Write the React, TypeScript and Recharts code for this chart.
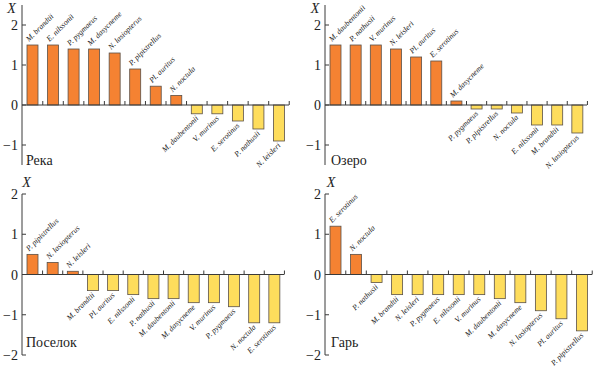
import React from 'react';
import { BarChart, Bar, XAxis, YAxis, ReferenceLine } from 'recharts';

const ORANGE = '#f58232';
const YELLOW = '#fedd5c';
const EDGE = '#5a5048';
const AXIS = '#3a3a3a';
const SERIF = '"Liberation Serif", "DejaVu Serif", serif';

const riverSpecies = [
  'M. brandtii', 'E. nilssonii', 'P. pygmaeus', 'M. dasycneme', 'N. lasiopterus',
  'P. pipistrellus', 'Pl. auritus', 'N. noctula', 'M. daubentonii', 'V. murinus',
  'E. serotinus', 'P. nathusii', 'N. leisleri',
];
const riverValues = [1.5, 1.5, 1.4, 1.4, 1.3, 0.9, 0.47, 0.24, -0.22, -0.22, -0.4, -0.6, -0.9];

const lakeSpecies = [
  'M. daubentonii', 'P. nathusii', 'V. murinus', 'N. leisleri', 'Pl. auritus',
  'E. serotinus', 'M. dasycneme', 'P. pygmaeus', 'P. pipistrellus', 'N. noctula',
  'E. nilssonii', 'M. brandtii', 'N. lasiopterus',
];
const lakeValues = [1.5, 1.5, 1.5, 1.4, 1.2, 1.1, 0.1, -0.1, -0.1, -0.2, -0.5, -0.5, -0.7];

const villageSpecies = [
  'P. pipistrellus', 'N. lasiopterus', 'N. leisleri', 'M. brandtii', 'Pl. auritus',
  'E. nilssonii', 'P. nathusii', 'M. daubentonii', 'M. dasycneme', 'V. murinus',
  'P. pygmaeus', 'N. noctula', 'E. serotinus',
];
const villageValues = [0.5, 0.3, 0.08, -0.4, -0.4, -0.5, -0.6, -0.6, -0.7, -0.7, -0.8, -1.2, -1.2];

const burntSpecies = [
  'E. serotinus', 'N. noctula', 'P. nathusii', 'M. brandtii', 'N. leisleri',
  'P. pygmaeus', 'E. nilssonii', 'V. murinus', 'M. daubentonii', 'M. dasycneme',
  'N. lasiopterus', 'Pl. auritus', 'P. pipistrellus',
];
const burntValues = [1.2, 0.5, -0.2, -0.5, -0.5, -0.5, -0.5, -0.5, -0.6, -0.7, -0.9, -1.1, -1.4];

const topTicks = [-1, 0, 1, 2];
const bottomTicks = [-2, -1, 0, 1, 2];

const panels = [
  {
    title: 'Река', species: riverSpecies, values: riverValues,
    left: 0, top: 0, width: 296, height: 180, axisWidth: 22,
    margin: { top: 5, right: 7, bottom: 15, left: 0 },
    domain: [-1.5, 2.5], ticks: topTicks,
    xLabel: { x: 11.5, y: 13 }, titlePos: { x: 26, y: 165 },
  },
  {
    title: 'Озеро', species: lakeSpecies, values: lakeValues,
    left: 296, top: 0, width: 297, height: 180, axisWidth: 29,
    margin: { top: 5, right: 6, bottom: 15, left: 0 },
    domain: [-1.5, 2.5], ticks: topTicks,
    xLabel: { x: 315, y: 13 }, titlePos: { x: 331, y: 165 },
  },
  {
    title: 'Поселок', species: villageSpecies, values: villageValues,
    left: 0, top: 180, width: 296, height: 188, axisWidth: 22,
    margin: { top: 14, right: 12, bottom: 13, left: 0 },
    domain: [-2, 2], ticks: bottomTicks,
    xLabel: { x: 26.5, y: 187 }, titlePos: { x: 26, y: 347 },
  },
  {
    title: 'Гарь', species: burntSpecies, values: burntValues,
    left: 296, top: 180, width: 297, height: 188, axisWidth: 29,
    margin: { top: 14, right: 1, bottom: 13, left: 0 },
    domain: [-2, 2], ticks: bottomTicks,
    xLabel: { x: 331, y: 187 }, titlePos: { x: 331, y: 347 },
  },
];

const YTick = (props: any) => {
  const { x, y, payload } = props;
  const v = payload.value;
  const label = v < 0 ? `\u2212${-v}` : `${v}`;
  return (
    <g>
      <line x1={x + 4} x2={x + 8} y1={y} y2={y} stroke={AXIS} />
      <text x={x} y={y} dy={5} textAnchor="end" fontFamily={SERIF} fontSize={14} fill="#222">
        {label}
      </text>
    </g>
  );
};

const makeShape = (band: number) => (props: any) => {
  const { x, y, width, height, payload } = props;
  const pos = payload.value >= 0;
  const y0 = Math.min(y, y + height);
  const y1 = Math.max(y, y + height);
  const zeroY = pos ? y1 : y0;
  const cx = x + width / 2;
  const tickX = cx + band / 2;
  const lx = pos ? x + 2 : cx + 2;
  const ly = pos ? y0 - 3 : y1 + 5;
  return (
    <g>
      <rect x={x} y={y0} width={width} height={y1 - y0}
        fill={pos ? ORANGE : YELLOW} stroke={EDGE} strokeWidth={0.8} />
      <line x1={tickX} x2={tickX} y1={zeroY} y2={zeroY - 4} stroke={AXIS} />
      <text x={lx} y={ly} transform={`rotate(-45 ${lx} ${ly})`}
        textAnchor={pos ? 'start' : 'end'} fontFamily={SERIF} fontStyle="italic"
        fontSize={7.8} fill="#111">
        {payload.name}
      </text>
    </g>
  );
};

const Panel = ({ p }: { p: (typeof panels)[number] }) => {
  const data = p.species.map((name, i) => ({ name, value: p.values[i] }));
  const plotWidth = p.width - p.axisWidth - p.margin.left - p.margin.right;
  const band = plotWidth / data.length;
  return (
    <div style={{ position: 'absolute', left: p.left, top: p.top }}>
      <BarChart width={p.width} height={p.height} data={data} margin={p.margin}
        style={{ overflow: 'visible' }}>
        <XAxis dataKey="name" hide />
        <YAxis
          width={p.axisWidth}
          domain={p.domain}
          ticks={p.ticks}
          axisLine={{ stroke: AXIS }}
          tickLine={false}
          tickSize={0}
          tickMargin={4}
          tick={<YTick />}
        />
        <ReferenceLine y={0} stroke={AXIS} strokeWidth={1} />
        <Bar dataKey="value" barSize={11} isAnimationActive={false} shape={makeShape(band)} />
      </BarChart>
    </div>
  );
};

export default function App() {
  return (
    <div style={{ position: 'absolute', left: 0, top: 0, width: 593, height: 368, background: '#fff' }}>
      {panels.map((p) => (
        <Panel key={p.title} p={p} />
      ))}
      <svg width={593} height={368} style={{ position: 'absolute', left: 0, top: 0, pointerEvents: 'none' }}>
        {panels.map((p) => (
          <g key={p.title}>
            <text x={p.xLabel.x} y={p.xLabel.y} textAnchor="middle" fontFamily={SERIF}
              fontStyle="italic" fontSize={14} fill="#222">X</text>
            <text x={p.titlePos.x} y={p.titlePos.y} fontFamily={SERIF} fontSize={14} fill="#222">
              {p.title}
            </text>
          </g>
        ))}
      </svg>
    </div>
  );
}
